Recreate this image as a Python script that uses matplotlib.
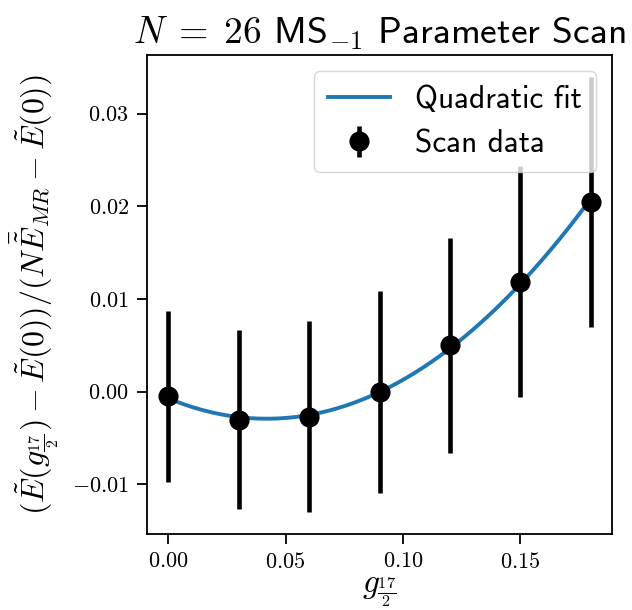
import numpy as np
import matplotlib
matplotlib.use("Agg")
import matplotlib.pyplot as plt
from matplotlib.ticker import FuncFormatter

plt.rcParams['mathtext.fontset'] = 'cm'
plt.rcParams['font.family'] = ['cmss10', 'DejaVu Sans']
plt.rcParams['axes.unicode_minus'] = False

# data
g_vals = [0.00, 0.03, 0.06, 0.09, 0.12, 0.15, 0.18]
scan_y = [-0.0005, -0.0030, -0.0027, 0.0000, 0.0050, 0.0119, 0.0205]
scan_err = [0.0092, 0.0097, 0.0103, 0.0109, 0.0116, 0.0125, 0.0135]
x_ticks = [0.00, 0.05, 0.10, 0.15]
y_ticks = [-0.01, 0.00, 0.01, 0.02, 0.03]

x = np.array(g_vals)
y = np.array(scan_y)
e = np.array(scan_err)
coef = np.polyfit(x, y, 2, w=1.0 / e)
xf = np.linspace(x.min(), x.max(), 200)
yf = np.polyval(coef, xf)

fig = plt.figure(figsize=(6.32, 6.10), dpi=100)
ax = fig.add_axes([0.2326, 0.1246, 0.7358, 0.7852])
ax.plot(xf, yf, color='#1f77b4', lw=2.8, label='Quadratic fit', zorder=2)
ax.errorbar(x, y, yerr=e, fmt='o', color='black', ms=13.5, elinewidth=3.3,
            capsize=0, label='Scan data', zorder=3)

ax.set_xticks(x_ticks)
ax.set_yticks(y_ticks)
ax.xaxis.set_major_formatter(FuncFormatter(lambda v, p: r'$%.2f$' % v))
ax.yaxis.set_major_formatter(FuncFormatter(lambda v, p: r'$%.2f$' % v))
ax.tick_params(labelsize=16, length=7, width=1.3, pad=6)
for s in ax.spines.values():
    s.set_linewidth(1.3)

ax.set_xlabel(r'$g_{\frac{17}{2}}$', fontsize=24, labelpad=2)
ax.set_ylabel(r'$(\tilde{E}(g_{\frac{17}{2}})-\tilde{E}(0))/(N\bar{\tilde{E}}_{MR}-\tilde{E}(0))$',
              fontsize=23, labelpad=8)
ax.set_title(r'$N\;=\;26$ MS$_{-1}$ Parameter Scan', fontsize=27, pad=8)
ax.legend(loc='upper right', fontsize=22.5, borderpad=0.45, handlelength=2.0)

fig.savefig('out.png', dpi=100)
